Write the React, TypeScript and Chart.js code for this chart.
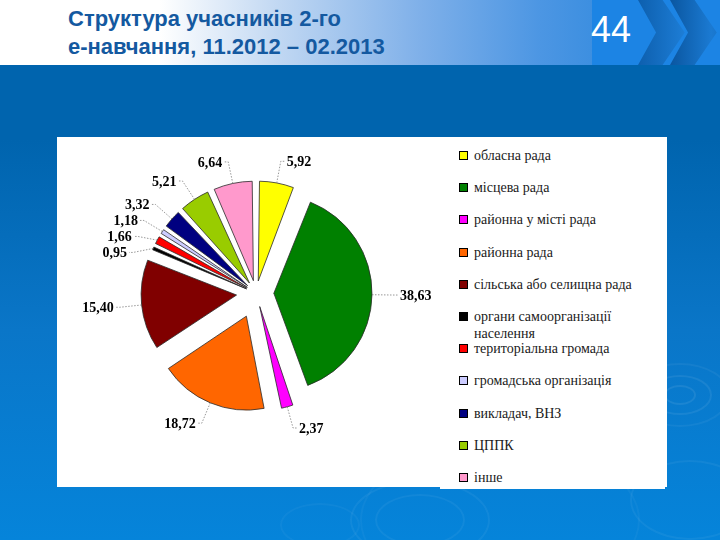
import React, { useEffect, useRef } from "react";
import { Chart, registerables } from "chart.js";

Chart.register(...registerables);

const titleLines = ["Структура учасників 2-го", "е-навчання, 11.2012 – 02.2013"];
const slideNumber = "44";

const categories = [
  "обласна рада",
  "місцева рада",
  "районна у місті рада",
  "районна рада",
  "сільська або селищна рада",
  "органи самоорганізації населення",
  "територіальна громада",
  "громадська організація",
  "викладач, ВНЗ",
  "ЦППК",
  "інше",
];

const values = [5.92, 38.63, 2.37, 18.72, 15.4, 0.95, 1.66, 1.18, 3.32, 5.21, 6.64];

const colors = [
  "#FFFF00",
  "#008000",
  "#FF00FF",
  "#FF6600",
  "#800000",
  "#000000",
  "#FF0000",
  "#CCCCFF",
  "#000080",
  "#99CC00",
  "#FF99CC",
];

// desired explosion distance of each slice (px)
const explode = [20, 24, 26, 27, 23, 20, 20, 20, 20, 20, 20];

const fmt = (v: number) => v.toFixed(2).replace(".", ",");

const total = values.reduce((a, b) => a + b, 0);
const sliceAngle = (i: number) => (values[i] / total) * Math.PI * 2;
// Chart.js 4 translates an arc by offset/4 * (2 - sin(min(PI, circumference)))
const offsetFor = (i: number) => (4 * explode[i]) / (2 - Math.sin(Math.min(Math.PI, sliceAngle(i))));

const labelPlugin = {
  id: "pieLabels",
  afterDatasetsDraw(chart: any) {
    const ctx = chart.ctx as CanvasRenderingContext2D;
    const meta = chart.getDatasetMeta(0);
    const items = meta.data.map((arc: any, i: number) => {
      const p = arc.getProps(["x", "y", "startAngle", "endAngle", "outerRadius"], true);
      const off = arc.options.offset || 0;
      const circ = p.endAngle - p.startAngle;
      const shift = (off / 4) * (2 - Math.sin(Math.min(Math.PI, circ)));
      const mid = (p.startAngle + p.endAngle) / 2;
      const c = Math.cos(mid);
      const s = Math.sin(mid);
      const r0 = p.outerRadius + shift;
      const r1 = r0 + 22;
      return {
        i,
        ex: p.x + c * r0,
        ey: p.y + s * r0,
        lx: p.x + c * r1,
        ly: p.y + s * r1,
        right: c >= 0,
      };
    });
    const left = items.filter((it: any) => !it.right).sort((a: any, b: any) => a.ly - b.ly);
    for (let k = 1; k < left.length; k++) {
      if (left[k].ly - left[k - 1].ly < 16) left[k].ly = left[k - 1].ly + 16;
    }
    ctx.save();
    ctx.font = "bold 14px 'Liberation Serif', 'Times New Roman', serif";
    ctx.textBaseline = "middle";
    items.forEach((it: any) => {
      const dir = it.right ? 1 : -1;
      ctx.strokeStyle = "#7d7d7d";
      ctx.lineWidth = 0.8;
      ctx.setLineDash([1.5, 1.5]);
      ctx.beginPath();
      ctx.moveTo(it.ex, it.ey);
      ctx.lineTo(it.lx, it.ly);
      ctx.lineTo(it.lx + dir * 4, it.ly);
      ctx.stroke();
      ctx.setLineDash([]);
      ctx.fillStyle = "#000";
      ctx.textAlign = it.right ? "left" : "right";
      ctx.fillText(fmt(values[it.i]), it.lx + dir * 6, it.ly + 1);
    });
    ctx.restore();
  },
};

function PieChart() {
  const ref = useRef<HTMLCanvasElement>(null);
  useEffect(() => {
    if (!ref.current) return;
    const chart = new Chart(ref.current, {
      type: "pie",
      data: {
        labels: categories,
        datasets: [
          {
            data: values,
            backgroundColor: colors,
            borderColor: "#2a2a2a",
            borderWidth: 0.8,
            offset: (c: any) => offsetFor(c.dataIndex),
            radius: 92,
          } as any,
        ],
      },
      options: {
        animation: false,
        responsive: false,
        maintainAspectRatio: false,
        devicePixelRatio: 1,
        layout: { padding: { left: 15, right: 0, top: 0, bottom: 38 } },
        plugins: {
          legend: { display: false },
          tooltip: { enabled: false },
        },
        events: [],
      } as any,
      plugins: [labelPlugin],
    });
    return () => chart.destroy();
  }, []);
  return (
    <canvas
      ref={ref}
      width={383}
      height={350}
      style={{ position: "absolute", left: 57, top: 137, width: 383, height: 350 }}
    />
  );
}

function Legend() {
  return (
    <div style={{ position: "absolute", left: 440, top: 137, width: 225, height: 352, background: "#fff" }}>
      {categories.map((c, i) => (
        <div
          key={c}
          style={{
            position: "absolute",
            left: 19,
            top: 18 + i * 32.2 - 8,
            width: 180,
            fontFamily: "'Liberation Serif', 'Times New Roman', serif",
            fontSize: 14,
            lineHeight: "17px",
            color: "#1a1a1a",
            display: "flex",
            alignItems: "flex-start",
          }}
        >
          <span
            style={{
              display: "inline-block",
              width: 7,
              height: 7,
              marginTop: 4,
              marginRight: 6,
              flex: "0 0 auto",
              background: colors[i],
              border: "1px solid #000",
            }}
          />
          <span>{c}</span>
        </div>
      ))}
    </div>
  );
}

const ring = (cx: number, cy: number, rx: number, ry: number, a: number) => (
  <div
    key={`${cx}-${cy}-${rx}`}
    style={{
      position: "absolute",
      left: cx - rx,
      top: cy - ry,
      width: rx * 2,
      height: ry * 2,
      borderRadius: "50%",
      border: `2px solid rgba(255,255,255,${a})`,
      boxSizing: "border-box",
    }}
  />
);

export default function App() {
  useEffect(() => {
    document.body.style.margin = "0";
  }, []);
  return (
    <div
      style={{
        position: "fixed",
        left: 0,
        top: 0,
        width: 720,
        height: 540,
        overflow: "hidden",
        background: "linear-gradient(to bottom, #0064ae 0px, #0064ae 140px, #0a76c8 330px, #0584da 540px)",
      }}
    >
      {[ring(680, 395, 16, 10, 0.08), ring(680, 395, 32, 20, 0.07), ring(680, 395, 50, 32, 0.05),
        ring(690, 500, 60, 40, 0.05), ring(420, 520, 70, 40, 0.05), ring(420, 520, 45, 26, 0.05),
        ring(320, 525, 40, 22, 0.04), ring(500, 520, 140, 80, 0.04)]}
      {/* header */}
      <div
        style={{
          position: "absolute",
          left: 0,
          top: 0,
          width: 720,
          height: 65,
          background:
            "linear-gradient(to right, #ffffff 0px, #ffffff 160px, #c0d7f2 280px, #7fb0e9 420px, #4c96e3 540px, #3d8fe0 592px, #1c84e4 592px, #1c84e4 720px)",
        }}
      />
      <div
        style={{
          position: "absolute",
          left: 638,
          top: 0,
          width: 82,
          height: 65,
          background: "linear-gradient(to right, #0d5fae, #1e7fd8 60%, #0d63b2)",
          clipPath: "polygon(0 0, 30% 0, 57% 50%, 30% 100%, 0 100%, 22% 50%)",
        }}
      />
      <div
        style={{
          position: "absolute",
          left: 670,
          top: 0,
          width: 82,
          height: 65,
          background: "linear-gradient(to right, #0a56a0, #1b7ad2 50%, #0c5fae)",
          clipPath: "polygon(0 0, 30% 0, 57% 50%, 30% 100%, 0 100%, 22% 50%)",
        }}
      />
      <div
        style={{
          position: "absolute",
          left: 68,
          top: 5,
          fontFamily: "'Liberation Sans', Arial, sans-serif",
          fontWeight: "bold",
          fontSize: 22,
          lineHeight: "28px",
          color: "#1459a0",
          whiteSpace: "nowrap",
        }}
      >
        <div>{titleLines[0]}</div>
        <div>{titleLines[1]}</div>
      </div>
      <div
        style={{
          position: "absolute",
          left: 591,
          top: 10,
          fontFamily: "'Liberation Sans', Arial, sans-serif",
          fontSize: 36,
          lineHeight: "40px",
          color: "#ffffff",
        }}
      >
        {slideNumber}
      </div>
      {/* panel */}
      <div style={{ position: "absolute", left: 57, top: 137, width: 610, height: 350, background: "#fff" }} />
      <PieChart />
      <Legend />
    </div>
  );
}
